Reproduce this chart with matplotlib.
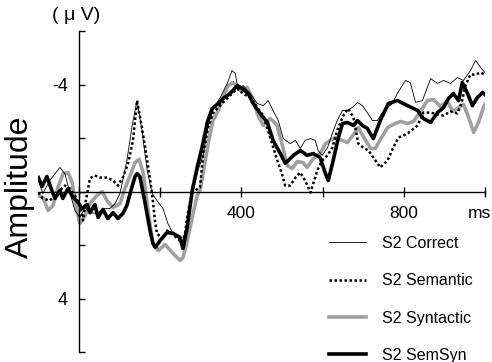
import matplotlib
matplotlib.use("Agg")
import matplotlib.pyplot as plt
import matplotlib.transforms as mtransforms

plt.rcParams['font.family'] = ['Liberation Sans', 'DejaVu Sans']

# ---- data (time in ms, amplitude in µV; negative plotted upward) ----
t_correct = [-100, -89, -72, -47, -35, -22, -10, 2, 15, 27, 44, 59, 76, 89, 101, 118, 131, 143, 155,
             168, 180, 192, 207, 219, 232, 244, 256, 266, 274, 284, 293, 306, 316, 328, 348, 365,
             377, 385, 392, 404, 422, 439, 454, 466, 478, 491, 503, 520, 533, 545, 557, 570, 582,
             589, 599, 612, 624, 636, 649, 661, 673, 686, 698, 710, 723, 735, 747, 760, 772, 784,
             804, 816, 829, 846, 866, 883, 898, 915, 932, 947, 964, 977, 989, 1000]
v_correct = [-0.41, 0.07, -0.41, -0.90, -0.67, 0.07, 0.71, 0.97, 0.60, 0.79, 0.82, 0.64, 0.64, 0.45,
             0.07, -1.16, -2.47, -3.40, -2.28, -0.79, 0.07, 0.34, 0.64, 1.20, 1.57, 1.72, 2.02, 1.27,
             0.52, -0.22, -0.79, -1.35, -2.28, -3.03, -3.51, -4.04, -4.52, -4.41, -3.78, -3.96,
             -3.66, -3.29, -3.21, -3.40, -3.03, -2.65, -1.98, -1.79, -1.91, -1.61, -1.91, -1.98,
             -1.91, -1.53, -1.35, -1.64, -2.17, -2.65, -3.03, -3.03, -3.14, -3.33, -3.21, -2.95,
             -2.65, -2.65, -2.95, -3.14, -3.29, -3.66, -4.15, -4.07, -3.33, -3.40, -4.22, -4.04,
             -4.15, -4.04, -4.26, -4.15, -4.52, -4.90, -4.64, -4.45]

t_semantic = [-100, -89, -72, -59, -47, -35, -22, -10, 2, 10, 17, 27, 39, 52, 69, 84, 96, 108, 121,
              133, 143, 155, 168, 180, 187, 192, 205, 217, 229, 242, 254, 261, 269, 279, 286, 298,
              306, 318, 330, 340, 355, 372, 390, 404, 422, 439, 454, 471, 483, 491, 501, 508, 520,
              533, 545, 557, 570, 587, 599, 612, 624, 636, 651, 663, 676, 688, 700, 713, 725, 742,
              760, 774, 787, 799, 816, 834, 848, 866, 883, 898, 915, 932, 942, 952, 964, 977, 989,
              1000]
v_semantic = [0.04, 0.26, 0.34, 0.15, -0.04, -0.22, -0.11, 0.15, 0.52, 1.08, 0.34, -0.49, -0.60,
              -0.52, -0.52, -0.41, -0.22, -0.52, -1.05, -1.91, -3.40, -2.39, -1.16, 0.07, 1.08,
              1.57, 1.76, 1.46, 1.57, 1.76, 1.91, 1.57, 0.71, 0.07, -0.04, -0.15, -1.42, -2.39,
              -2.92, -3.10, -3.33, -3.59, -3.85, -3.66, -3.51, -3.14, -2.84, -2.02, -1.42, -1.05,
              -0.60, -0.22, -0.22, -0.52, -0.71, -0.41, 0.04, -0.79, -1.16, -1.35, -1.64, -2.28,
              -2.84, -3.10, -2.77, -1.79, -1.64, -1.53, -1.27, -0.90, -1.16, -1.64, -2.02, -2.09,
              -2.24, -2.47, -2.95, -2.95, -2.88, -2.84, -2.99, -2.92, -3.29, -3.96, -4.37, -4.37,
              -4.45, -4.37]

t_syntactic = [-100, -89, -76, -64, -52, -39, -27, -17, -10, 2, 15, 27, 44, 57, 69, 84, 101, 113,
               126, 138, 148, 158, 170, 182, 195, 212, 232, 249, 256, 266, 279, 291, 298, 306, 318,
               330, 343, 355, 367, 380, 397, 414, 427, 441, 454, 471, 488, 501, 513, 525, 538, 552,
               562, 577, 594, 607, 619, 631, 649, 661, 676, 688, 700, 718, 730, 742, 760, 774, 792,
               809, 824, 841, 858, 873, 890, 907, 922, 935, 947, 959, 972, 984, 996, 1000]
v_syntactic = [0.15, 0.22, 0.71, 0.52, -0.15, -0.67, -0.71, -0.34, 0.34, 1.20, 0.90, 0.45, 0.15,
               0.00, 0.34, 0.60, 0.45, -0.11, -0.60, -1.08, -1.20, -0.71, 0.71, 1.94, 2.21, 1.98,
               2.32, 2.58, 2.47, 1.91, 0.97, 0.15, -0.04, -0.71, -1.79, -2.65, -3.03, -3.51, -3.96,
               -4.07, -3.78, -3.89, -3.51, -2.84, -2.47, -2.73, -2.47, -1.72, -0.97, -0.86, -1.12,
               -1.08, -0.90, -1.23, -1.42, -1.79, -1.91, -2.02, -1.91, -1.83, -2.13, -2.39, -2.06,
               -1.61, -1.61, -1.94, -2.39, -2.51, -2.62, -2.54, -2.62, -2.99, -3.40, -3.44, -3.18,
               -3.36, -2.99, -3.14, -3.25, -2.80, -2.21, -2.58, -3.14, -3.25]

t_semsyn = [-100, -91, -79, -67, -59, -47, -40, -27, -15, -2, 7, 20, 27, 39, 47, 59, 71, 84, 96, 108,
            118, 128, 138, 143, 150, 163, 175, 182, 188, 200, 217, 232, 249, 256, 266, 279, 291, 303,
            316, 328, 343, 355, 372, 390, 402, 417, 429, 446, 464, 478, 496, 508, 528, 545, 562, 577,
            594, 607, 614, 626, 639, 649, 661, 676, 686, 698, 710, 725, 742, 762, 784, 809, 834, 848,
            866, 883, 898, 910, 922, 935, 944, 957, 969, 981, 994, 1000]
v_semsyn = [-0.52, -0.19, -0.56, -0.04, 0.26, -0.04, 0.26, -0.11, 0.22, 0.41, 0.64, 0.49, 0.79,
            0.49, 0.97, 0.67, 1.01, 0.79, 1.01, 0.82, 0.52, -0.04, -0.56, -0.67, -0.56, 0.45, 1.46,
            1.94, 2.09, 1.83, 1.53, 1.57, 1.72, 2.13, 1.38, -0.04, -0.90, -1.64, -2.58, -3.10,
            -3.29, -3.48, -3.66, -3.96, -3.85, -3.66, -3.29, -2.92, -2.58, -1.91, -1.42, -1.05,
            -1.35, -1.53, -1.35, -1.42, -1.27, -0.67, -0.41, -1.16, -2.02, -2.54, -2.58, -2.47,
            -2.65, -2.47, -2.36, -1.98, -2.65, -3.29, -3.40, -3.21, -3.03, -2.73, -2.58, -2.95,
            -3.14, -3.48, -3.66, -3.40, -4.07, -3.66, -3.21, -3.51, -3.70, -3.62]

labels = ['S2 Correct', 'S2 Semantic', 'S2 Syntactic', 'S2 SemSyn']
x_ticks = [0, 200, 400, 600, 800, 1000]
x_ticklabels = ['', '', '400', '', '800', 'ms']
y_ticks = [-6, -4, -2, 0, 2, 4, 6]
y_ticklabels = ['', '-4', '', '', '', '4', '']

# ---- figure ----
fig = plt.figure(figsize=(4.92, 3.62), dpi=100)
ax = fig.add_axes([38.4 / 492, 10 / 362, 446.6 / 492, 321 / 362])

ax.plot(t_syntactic, v_syntactic, color='#a0a0a0', lw=2.6, zorder=2, label=labels[2],
        solid_joinstyle='round')
ax.plot(t_correct, v_correct, color='black', lw=0.6, zorder=3, label=labels[0])
ax.plot(t_semantic, v_semantic, color='black', lw=1.8, ls=(0, (1, 1)), zorder=4, label=labels[1])
ax.plot(t_semsyn, v_semsyn, color='black', lw=2.6, zorder=5, label=labels[3],
        solid_joinstyle='round')

ax.set_xlim(-100, 1000)
ax.set_ylim(6, -6)

for s in ['top', 'right']:
    ax.spines[s].set_visible(False)
ax.spines['left'].set_position(('data', 0))
ax.spines['bottom'].set_position(('data', 0))
ax.spines['left'].set_linewidth(1.0)
ax.spines['bottom'].set_linewidth(1.0)

ax.set_xticks(x_ticks)
ax.set_xticklabels(x_ticklabels)
ax.set_yticks(y_ticks)
ax.set_yticklabels(y_ticklabels)
ax.tick_params(axis='x', direction='inout', length=7, width=1.0, labelsize=12.5, pad=7)
ax.tick_params(axis='y', direction='in', length=4, width=1.0, labelsize=13, pad=8)

# shift the "ms" label slightly left so it stays inside the figure
ms_label = ax.get_xticklabels()[-1]
ms_label.set_transform(ms_label.get_transform() +
                       mtransforms.ScaledTranslation(-6 / 100, 0, fig.dpi_scale_trans))

fig.text(20 / 492, 1 - 187 / 362, 'Amplitude', rotation=90, fontsize=23,
         ha='center', va='center')
fig.text(76 / 492, 1 - 16 / 362, '( μ V)', fontsize=14, ha='center', va='center')

h, l = ax.get_legend_handles_labels()
order = [l.index(x) for x in labels]
leg = fig.legend([h[i] for i in order], [l[i] for i in order],
                 loc='upper left', bbox_to_anchor=(329 / 492, 1 - 236 / 362),
                 frameon=False, fontsize=11.5, handlelength=2.3, handletextpad=1.0,
                 labelspacing=1.4, borderpad=0, borderaxespad=0)

fig.savefig('out.png', dpi=100)
